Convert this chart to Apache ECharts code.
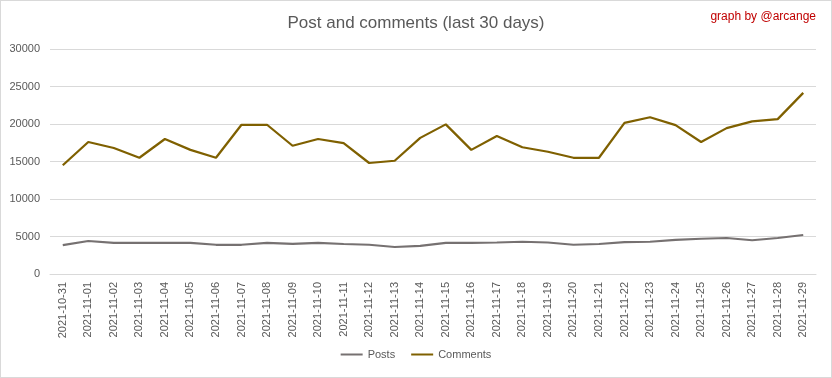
<!DOCTYPE html>
<html><head><meta charset="utf-8">
<script src="https://cdn.jsdelivr.net/npm/echarts@6/dist/echarts.min.js"></script>
<style>html,body{margin:0;padding:0;background:#fff}#c{width:832px;height:378px;box-sizing:border-box;border:1px solid #d9d9d9}</style>
</head><body><div id="c"></div>
<script>
const categories = ['2021-10-31','2021-11-01','2021-11-02','2021-11-03','2021-11-04','2021-11-05','2021-11-06','2021-11-07','2021-11-08','2021-11-09','2021-11-10','2021-11-11','2021-11-12','2021-11-13','2021-11-14','2021-11-15','2021-11-16','2021-11-17','2021-11-18','2021-11-19','2021-11-20','2021-11-21','2021-11-22','2021-11-23','2021-11-24','2021-11-25','2021-11-26','2021-11-27','2021-11-28','2021-11-29'];
const posts = [3850,4400,4150,4150,4150,4150,3900,3900,4150,4030,4150,4000,3900,3600,3750,4150,4150,4200,4300,4200,3900,4000,4250,4300,4550,4700,4800,4500,4800,5200];
const comments = [14500,17600,16800,15500,18000,16550,15500,19900,19900,17100,18000,17450,14800,15100,18150,19950,16550,18400,16900,16300,15500,15500,20150,20900,19850,17600,19450,20350,20650,24150];
const yTicks = {min:0, max:30000, interval:5000};
const FONT = '"Liberation Sans",sans-serif';
const chart = echarts.init(document.getElementById('c'), null, {renderer:'canvas'});
chart.setOption({
  animation:false,
  title:[
    {text:'Post and comments (last 30 days)', left:'center', top:9, textStyle:{fontFamily:FONT, fontSize:17, fontWeight:'normal', color:'#595959'}},
    {text:'graph by @arcange', right:10, top:5, textStyle:{fontFamily:FONT, fontSize:12, fontWeight:'normal', color:'#c00000'}}
  ],
  legend:{bottom:12, left:'center', itemWidth:22, itemHeight:2, itemGap:16, icon:'rect',
    textStyle:{fontFamily:FONT, fontSize:11, color:'#595959'},
    data:['Posts','Comments']},
  grid:{left:49, right:15, top:48, bottom:103},
  xAxis:{type:'category', data:categories, boundaryGap:true,
    axisLine:{lineStyle:{color:'#d9d9d9'}}, axisTick:{show:false},
    axisLabel:{rotate:90, fontFamily:FONT, fontSize:11, color:'#595959', margin:8, interval:0}},
  yAxis:{type:'value', min:yTicks.min, max:yTicks.max, interval:yTicks.interval,
    axisLine:{show:false}, axisTick:{show:false},
    splitLine:{lineStyle:{color:'#d9d9d9'}},
    axisLabel:{fontFamily:FONT, fontSize:11, color:'#595959', margin:10, formatter:function(v){return String(v);}}},
  series:[
    {name:'Posts', type:'line', data:posts, showSymbol:false, lineStyle:{color:'#767171', width:2.25}, itemStyle:{color:'#767171'}},
    {name:'Comments', type:'line', data:comments, showSymbol:false, lineStyle:{color:'#7f6000', width:2.25}, itemStyle:{color:'#7f6000'}}
  ]
});
</script></body></html>
